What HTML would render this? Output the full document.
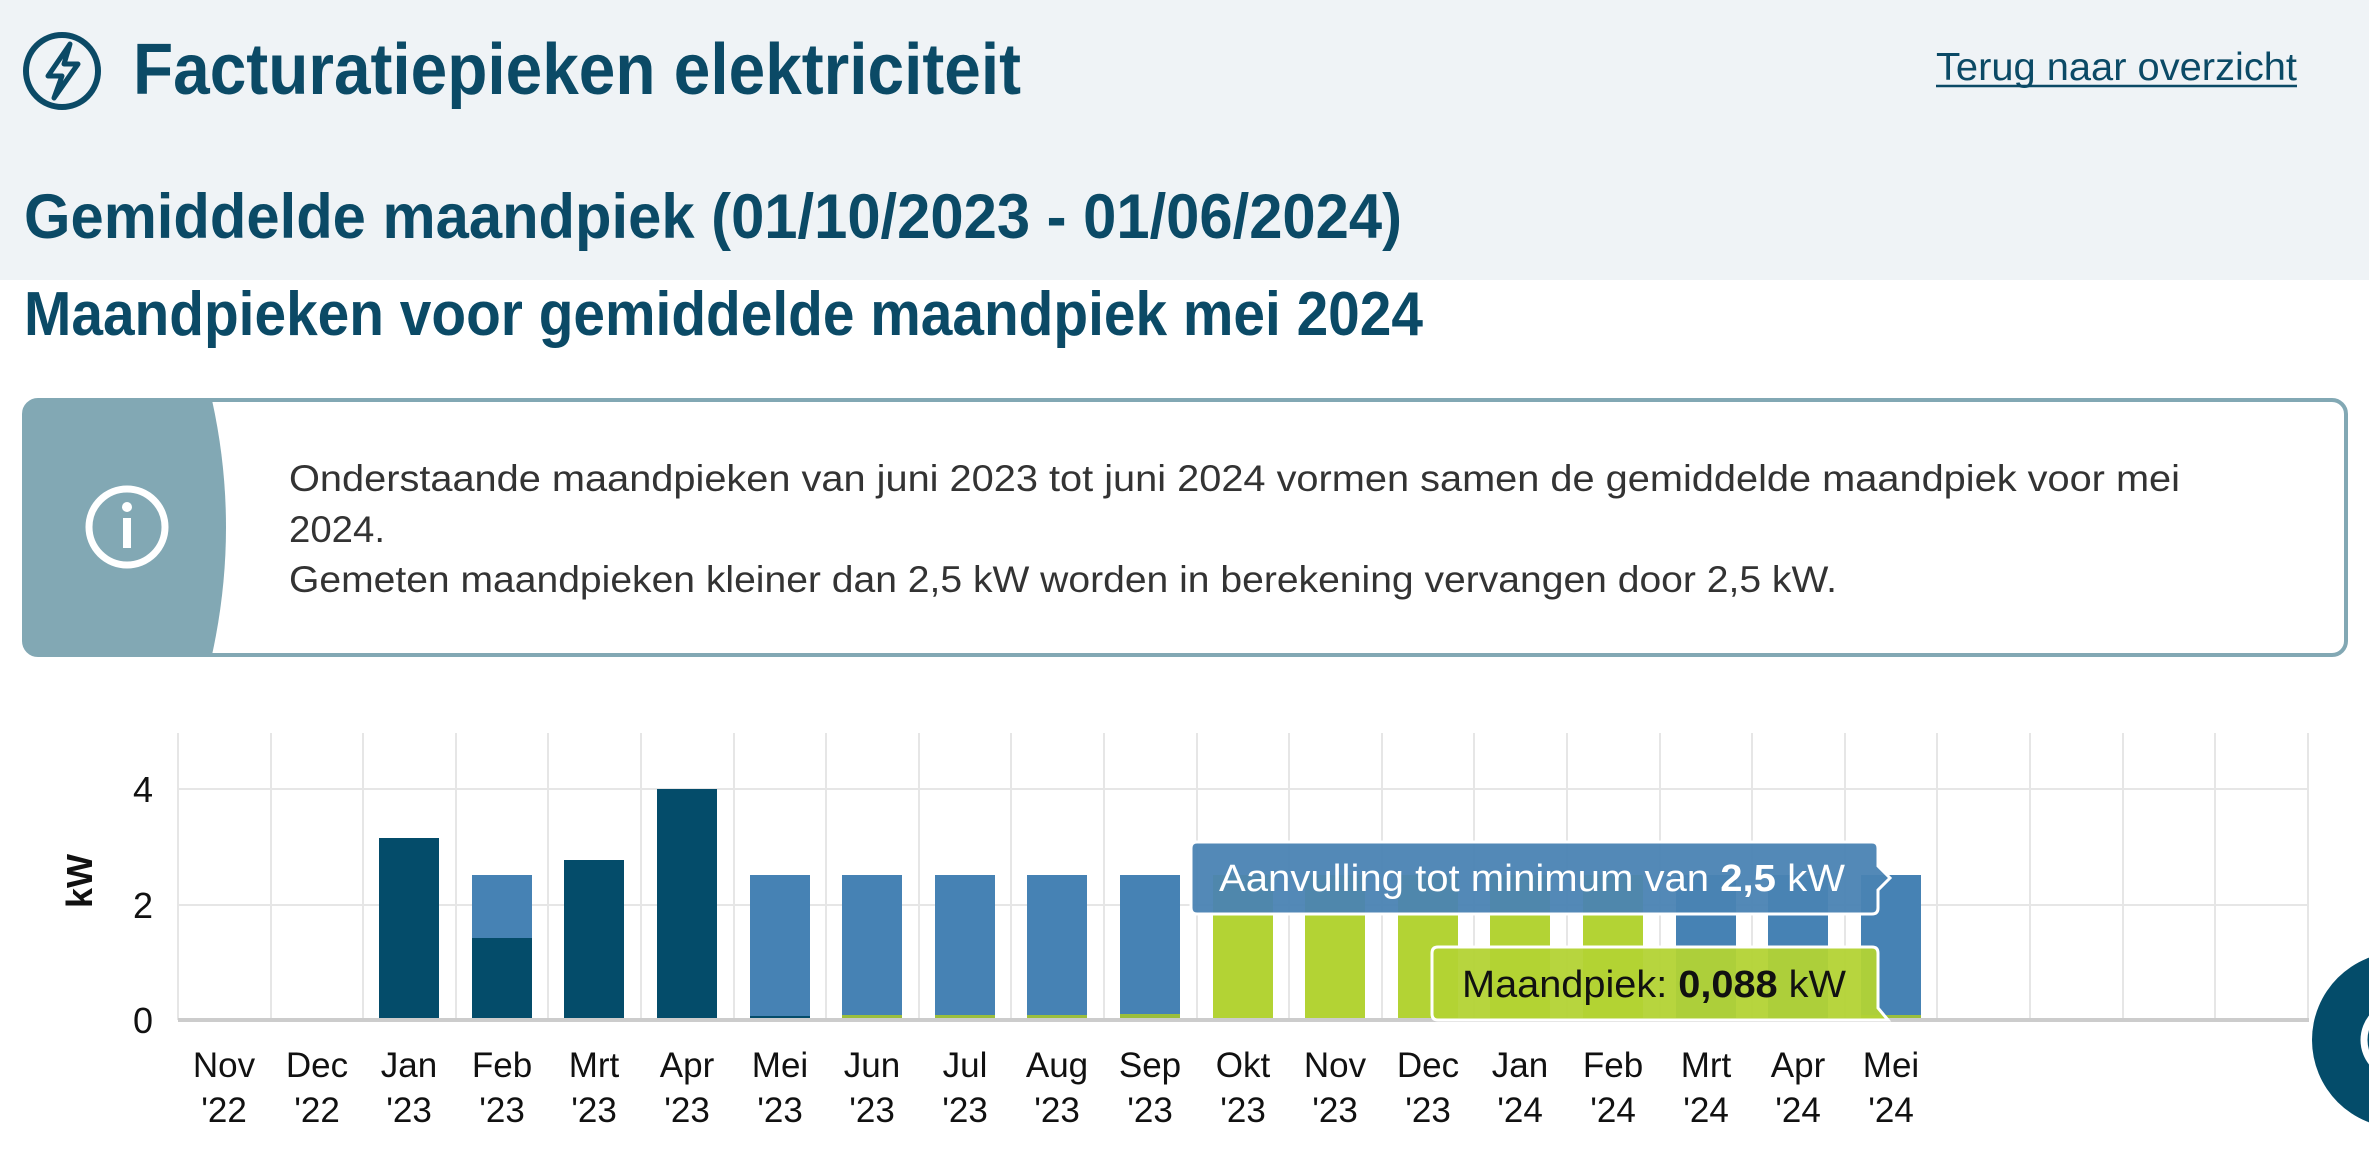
<!DOCTYPE html>
<html><head><meta charset="utf-8"><style>
html,body{margin:0;padding:0;background:#fff;}
svg{display:block;font-family:"Liberation Sans",sans-serif;}
</style></head><body>
<svg width="2369" height="1152" viewBox="0 0 2369 1152" xmlns="http://www.w3.org/2000/svg">
<rect x="0" y="0" width="2369" height="280" fill="#eff3f6"/>
<circle cx="62" cy="71" r="36" fill="none" stroke="#0b4a66" stroke-width="6"/>
<path d="M70 44 L48 76 L62 76 L54 98 L78 64 L64 64 Z" fill="none" stroke="#0b4a66" stroke-width="5" stroke-linejoin="round"/>
<text x="133" y="94" font-size="72" font-weight="bold" fill="#0b4a66" textLength="888" lengthAdjust="spacingAndGlyphs">Facturatiepieken elektriciteit</text>
<text x="1936" y="80" font-size="39" fill="#0b4a66" textLength="361" lengthAdjust="spacingAndGlyphs">Terug naar overzicht</text>
<line x1="1936" y1="86" x2="2297" y2="86" stroke="#0b4a66" stroke-width="2.5"/>
<text x="24" y="238" font-size="63" font-weight="bold" fill="#0b4a66" textLength="1378" lengthAdjust="spacingAndGlyphs">Gemiddelde maandpiek (01/10/2023 - 01/06/2024)</text>
<text x="24" y="335" font-size="62" font-weight="bold" fill="#0b4a66" textLength="1399" lengthAdjust="spacingAndGlyphs">Maandpieken voor gemiddelde maandpiek mei 2024</text>
<rect x="24" y="400" width="2322" height="255" rx="14" fill="#fff" stroke="#82a8b4" stroke-width="4"/>
<path d="M38 400 H212 Q240 527 212 655 H38 Q24 655 24 641 V414 Q24 400 38 400 Z" fill="#82a8b4"/>
<circle cx="127" cy="527" r="38" fill="none" stroke="#fff" stroke-width="7"/>
<circle cx="127" cy="507" r="5" fill="#fff"/>
<rect x="123" y="518" width="8" height="30" fill="#fff"/>
<text x="289" y="491" font-size="37" fill="#333" textLength="1891" lengthAdjust="spacingAndGlyphs">Onderstaande maandpieken van juni 2023 tot juni 2024 vormen samen de gemiddelde maandpiek voor mei</text>
<text x="289" y="542" font-size="37" fill="#333" textLength="96" lengthAdjust="spacingAndGlyphs">2024.</text>
<text x="289" y="592" font-size="37" fill="#333" textLength="1548" lengthAdjust="spacingAndGlyphs">Gemeten maandpieken kleiner dan 2,5 kW worden in berekening vervangen door 2,5 kW.</text>
<g stroke="#e6e6e6" stroke-width="2">
<line x1="178" y1="789" x2="2309" y2="789"/><line x1="178" y1="905" x2="2309" y2="905"/>
<line x1="178" y1="733" x2="178" y2="1020"/><line x1="271" y1="733" x2="271" y2="1020"/><line x1="363" y1="733" x2="363" y2="1020"/><line x1="456" y1="733" x2="456" y2="1020"/><line x1="548" y1="733" x2="548" y2="1020"/><line x1="641" y1="733" x2="641" y2="1020"/><line x1="734" y1="733" x2="734" y2="1020"/><line x1="826" y1="733" x2="826" y2="1020"/><line x1="919" y1="733" x2="919" y2="1020"/><line x1="1011" y1="733" x2="1011" y2="1020"/><line x1="1104" y1="733" x2="1104" y2="1020"/><line x1="1197" y1="733" x2="1197" y2="1020"/><line x1="1289" y1="733" x2="1289" y2="1020"/><line x1="1382" y1="733" x2="1382" y2="1020"/><line x1="1474" y1="733" x2="1474" y2="1020"/><line x1="1567" y1="733" x2="1567" y2="1020"/><line x1="1660" y1="733" x2="1660" y2="1020"/><line x1="1752" y1="733" x2="1752" y2="1020"/><line x1="1845" y1="733" x2="1845" y2="1020"/><line x1="1937" y1="733" x2="1937" y2="1020"/><line x1="2030" y1="733" x2="2030" y2="1020"/><line x1="2123" y1="733" x2="2123" y2="1020"/><line x1="2215" y1="733" x2="2215" y2="1020"/><line x1="2308" y1="733" x2="2308" y2="1020"/>
</g>
<g>
<rect x="379" y="838" width="60" height="182" fill="#044c6a"/>
<rect x="472" y="875" width="60" height="63" fill="#4682b4"/>
<rect x="472" y="938" width="60" height="82" fill="#044c6a"/>
<rect x="564" y="860" width="60" height="160" fill="#044c6a"/>
<rect x="657" y="789" width="60" height="231" fill="#044c6a"/>
<rect x="750" y="875" width="60" height="145" fill="#4682b4"/>
<rect x="750" y="1016" width="60" height="4" fill="#044c6a"/>
<rect x="842" y="875" width="60" height="145" fill="#4682b4"/><rect x="842" y="1015" width="60" height="5" fill="#9bbe3c"/>
<rect x="935" y="875" width="60" height="145" fill="#4682b4"/><rect x="935" y="1015" width="60" height="5" fill="#9bbe3c"/>
<rect x="1027" y="875" width="60" height="145" fill="#4682b4"/><rect x="1027" y="1015" width="60" height="5" fill="#9bbe3c"/>
<rect x="1120" y="875" width="60" height="145" fill="#4682b4"/><rect x="1120" y="1014" width="60" height="6" fill="#9bbe3c"/>
<rect x="1213" y="875" width="60" height="145" fill="#b3d334"/>
<rect x="1305" y="875" width="60" height="145" fill="#b3d334"/>
<rect x="1398" y="875" width="60" height="145" fill="#b3d334"/>
<rect x="1490" y="875" width="60" height="145" fill="#b3d334"/>
<rect x="1583" y="875" width="60" height="145" fill="#b3d334"/>
<rect x="1676" y="875" width="60" height="145" fill="#4682b4"/>
<rect x="1768" y="875" width="60" height="145" fill="#4682b4"/>
<rect x="1861" y="875" width="60" height="145" fill="#4682b4"/><rect x="1861" y="1015" width="60" height="5" fill="#9bbe3c"/>
</g>
<line x1="178" y1="1020" x2="2309" y2="1020" stroke="#cccccc" stroke-width="4"/>
<g font-size="36" fill="#111" text-anchor="end">
<text x="153" y="802">4</text><text x="153" y="918">2</text><text x="153" y="1033">0</text>
</g>
<text transform="translate(92,881) rotate(-90)" font-size="36" font-weight="bold" fill="#111" text-anchor="middle">kW</text>
<g font-size="35" fill="#111" text-anchor="middle">
<text x="224" y="1077">Nov</text><text x="224" y="1122">'22</text>
<text x="317" y="1077">Dec</text><text x="317" y="1122">'22</text>
<text x="409" y="1077">Jan</text><text x="409" y="1122">'23</text>
<text x="502" y="1077">Feb</text><text x="502" y="1122">'23</text>
<text x="594" y="1077">Mrt</text><text x="594" y="1122">'23</text>
<text x="687" y="1077">Apr</text><text x="687" y="1122">'23</text>
<text x="780" y="1077">Mei</text><text x="780" y="1122">'23</text>
<text x="872" y="1077">Jun</text><text x="872" y="1122">'23</text>
<text x="965" y="1077">Jul</text><text x="965" y="1122">'23</text>
<text x="1057" y="1077">Aug</text><text x="1057" y="1122">'23</text>
<text x="1150" y="1077">Sep</text><text x="1150" y="1122">'23</text>
<text x="1243" y="1077">Okt</text><text x="1243" y="1122">'23</text>
<text x="1335" y="1077">Nov</text><text x="1335" y="1122">'23</text>
<text x="1428" y="1077">Dec</text><text x="1428" y="1122">'23</text>
<text x="1520" y="1077">Jan</text><text x="1520" y="1122">'24</text>
<text x="1613" y="1077">Feb</text><text x="1613" y="1122">'24</text>
<text x="1706" y="1077">Mrt</text><text x="1706" y="1122">'24</text>
<text x="1798" y="1077">Apr</text><text x="1798" y="1122">'24</text>
<text x="1891" y="1077">Mei</text><text x="1891" y="1122">'24</text>
</g>
<path d="M1197 842 H1872 Q1878 842 1878 848 V866 L1890 878 L1878 890 V908 Q1878 914 1872 914 H1197 Q1191 914 1191 908 V848 Q1191 842 1197 842 Z" fill="#4a83b3" fill-opacity="0.95" stroke="#fff" stroke-width="3"/>
<text x="1219" y="891" font-size="38" fill="#fff" textLength="626" lengthAdjust="spacingAndGlyphs">Aanvulling tot minimum van <tspan font-weight="bold">2,5</tspan> kW</text>
<path d="M1438 947 H1872 Q1878 947 1878 953 V1008 L1888 1020 H1438 Q1432 1020 1432 1014 V953 Q1432 947 1438 947 Z" fill="#b3d334" fill-opacity="0.95" stroke="#fff" stroke-width="3"/>
<text x="1462" y="997" font-size="38" fill="#111" textLength="384" lengthAdjust="spacingAndGlyphs">Maandpiek: <tspan font-weight="bold">0,088</tspan> kW</text>
<circle cx="2400" cy="1040" r="88" fill="#044c6a"/>
<circle cx="2400" cy="1040" r="36" fill="none" stroke="#fff" stroke-width="7"/>
</svg>
</body></html>
